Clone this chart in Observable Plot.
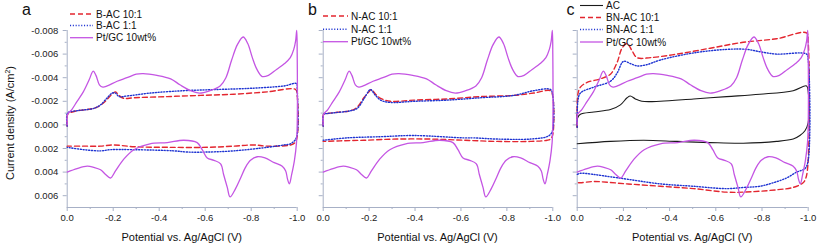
<!DOCTYPE html>
<html><head><meta charset="utf-8">
<script src="https://cdn.jsdelivr.net/npm/d3@7"></script>
<script src="https://cdn.jsdelivr.net/npm/@observablehq/plot@0.6"></script>
<style>
body{margin:0;background:#fff;}
#wrap{position:relative;width:817px;height:244px;overflow:hidden;font-family:"Liberation Sans",Arial,sans-serif;}
#wrap svg{position:absolute;top:0;}
</style></head><body><div id="wrap"></div>
<script>
// ---- tick values ----
const xTicks = [0, -0.2, -0.4, -0.6, -0.8, -1.0];
const xMinor = [-0.1, -0.3, -0.5, -0.7, -0.9];
const yTicks = [-0.008, -0.006, -0.004, -0.002, 0, 0.002, 0.004, 0.006];
const yMinor = [-0.007, -0.005, -0.003, -0.001, 0.001, 0.003, 0.005];

// ---- series: [potential (V), current density (A/cm2)] ----
const ptgc = [[0,0.0000],[-0.002,-0.0009],[-0.02,-0.0013],[-0.043,-0.0020],[-0.07,-0.0028],[-0.095,-0.0038],[-0.113,-0.00456],[-0.125,-0.0042],[-0.14,-0.0034],[-0.155,-0.0032],[-0.174,-0.0033],[-0.217,-0.0037],[-0.26,-0.0040],[-0.30,-0.0043],[-0.33,-0.00435],[-0.39,-0.0042],[-0.45,-0.0039],[-0.49,-0.0034],[-0.536,-0.0029],[-0.575,-0.0027],[-0.62,-0.0029],[-0.665,-0.0033],[-0.69,-0.0040],[-0.715,-0.0055],[-0.74,-0.0068],[-0.765,-0.00745],[-0.785,-0.0069],[-0.805,-0.0057],[-0.825,-0.0047],[-0.848,-0.0041],[-0.875,-0.0042],[-0.91,-0.0047],[-0.945,-0.0052],[-0.97,-0.0057],[-0.985,-0.0064],[-0.993,-0.0071],[-0.998,-0.0080],[-1.0,-0.0060],[-1.0,0.0000],[-0.997,0.0015],[-0.988,0.0030],[-0.976,0.0042],[-0.966,0.0050],[-0.958,0.0046],[-0.95,0.0039],[-0.935,0.0035],[-0.9,0.0032],[-0.86,0.0028],[-0.826,0.0027],[-0.797,0.0030],[-0.775,0.0036],[-0.754,0.0045],[-0.732,0.0054],[-0.708,0.0061],[-0.696,0.0053],[-0.68,0.0042],[-0.667,0.0033],[-0.638,0.0030],[-0.609,0.0028],[-0.587,0.0021],[-0.565,0.0015],[-0.507,0.0013],[-0.435,0.0015],[-0.36,0.0016],[-0.29,0.0021],[-0.246,0.0029],[-0.21,0.0039],[-0.188,0.0045],[-0.167,0.0042],[-0.145,0.0038],[-0.116,0.0036],[-0.087,0.0035],[-0.043,0.0037],[0,0.0040]];

const bac10 = [[0,0.0001],[-0.002,-0.0009],[-0.014,-0.00105],[-0.043,-0.0012],[-0.087,-0.0013],[-0.13,-0.0015],[-0.16,-0.0019],[-0.18,-0.0023],[-0.2,-0.0027],[-0.21,-0.0028],[-0.225,-0.0025],[-0.246,-0.00225],[-0.29,-0.0023],[-0.435,-0.0024],[-0.58,-0.0025],[-0.725,-0.0026],[-0.87,-0.0028],[-0.993,-0.0030],[-1.0,-0.0025],[-1.0,0.0010],[-0.99,0.0015],[-0.971,0.0017],[-0.87,0.0018],[-0.81,0.0017],[-0.725,0.0018],[-0.609,0.0019],[-0.435,0.0019],[-0.29,0.00185],[-0.203,0.0017],[-0.145,0.0018],[-0.07,0.0018],[0,0.0018]];

const bac11 = [[0,0.0001],[-0.002,-0.0010],[-0.043,-0.0012],[-0.116,-0.0014],[-0.145,-0.0017],[-0.174,-0.0023],[-0.196,-0.0027],[-0.21,-0.0027],[-0.225,-0.0024],[-0.26,-0.00245],[-0.362,-0.0027],[-0.507,-0.0029],[-0.652,-0.0030],[-0.797,-0.0031],[-0.942,-0.0033],[-0.997,-0.0035],[-1.0,-0.0030],[-1.0,0.0008],[-0.99,0.0013],[-0.97,0.0016],[-0.942,0.0017],[-0.87,0.0019],[-0.725,0.0022],[-0.609,0.0023],[-0.522,0.0023],[-0.464,0.0022],[-0.29,0.0021],[-0.188,0.0021],[-0.145,0.0022],[-0.072,0.0021],[0,0.0019]];

const nac10 = [[0,0.0001],[-0.002,-0.0009],[-0.017,-0.00096],[-0.075,-0.0011],[-0.119,-0.0012],[-0.148,-0.0015],[-0.177,-0.0023],[-0.199,-0.0028],[-0.209,-0.0030],[-0.228,-0.0026],[-0.25,-0.00225],[-0.293,-0.0020],[-0.395,-0.0021],[-0.54,-0.0022],[-0.685,-0.0024],[-0.83,-0.0025],[-0.917,-0.0027],[-0.99,-0.0029],[-1.0,-0.0024],[-1.0,0.0008],[-0.99,0.0012],[-0.975,0.0013],[-0.903,0.0014],[-0.758,0.0014],[-0.612,0.0013],[-0.467,0.0012],[-0.322,0.0012],[-0.177,0.0013],[-0.075,0.00135],[0,0.0014]];

const nac11 = [[0,0.0001],[-0.002,-0.0009],[-0.017,-0.00096],[-0.119,-0.0012],[-0.148,-0.0014],[-0.177,-0.0022],[-0.199,-0.0029],[-0.206,-0.0030],[-0.228,-0.0025],[-0.25,-0.0021],[-0.293,-0.0019],[-0.395,-0.0020],[-0.54,-0.0021],[-0.685,-0.0023],[-0.83,-0.0025],[-0.917,-0.0029],[-0.99,-0.0030],[-1.0,-0.0025],[-1.0,0.0004],[-0.99,0.0008],[-0.975,0.0010],[-0.903,0.0012],[-0.758,0.0012],[-0.656,0.0011],[-0.612,0.0011],[-0.395,0.0009],[-0.25,0.0010],[-0.104,0.0011],[0,0.0013]];

const ac = [[0,0.0002],[-0.002,-0.0006],[-0.014,-0.0009],[-0.072,-0.0011],[-0.144,-0.0013],[-0.187,-0.0017],[-0.216,-0.0023],[-0.23,-0.00245],[-0.252,-0.0022],[-0.28,-0.0020],[-0.36,-0.0020],[-0.504,-0.0022],[-0.647,-0.0024],[-0.791,-0.0026],[-0.935,-0.0029],[-0.993,-0.0033],[-1.0,-0.0028],[-1.0,-0.0002],[-0.986,0.0005],[-0.964,0.0009],[-0.935,0.0012],[-0.863,0.0014],[-0.719,0.00155],[-0.576,0.0015],[-0.432,0.0014],[-0.288,0.0013],[-0.144,0.0014],[0,0.0016]];

const bnac10 = [[0,0.0002],[-0.003,-0.0026],[-0.014,-0.0032],[-0.043,-0.0036],[-0.1,-0.0039],[-0.144,-0.0043],[-0.173,-0.0053],[-0.194,-0.0065],[-0.216,-0.0069],[-0.237,-0.0063],[-0.259,-0.0057],[-0.317,-0.0057],[-0.432,-0.0060],[-0.576,-0.0065],[-0.719,-0.0070],[-0.863,-0.0073],[-0.993,-0.0078],[-1.0,-0.0070],[-1.0,0.0030],[-0.99,0.0045],[-0.978,0.0049],[-0.935,0.0053],[-0.863,0.0055],[-0.719,0.0057],[-0.647,0.0057],[-0.504,0.0054],[-0.36,0.0052],[-0.216,0.0050],[-0.072,0.0048],[-0.014,0.0049],[0,0.0049]];

const bnac11 = [[0,0.0002],[-0.003,-0.0020],[-0.014,-0.0027],[-0.072,-0.0032],[-0.144,-0.0037],[-0.173,-0.0044],[-0.195,-0.0053],[-0.205,-0.0054],[-0.23,-0.0052],[-0.26,-0.0050],[-0.30,-0.0051],[-0.36,-0.0055],[-0.504,-0.0061],[-0.647,-0.0064],[-0.734,-0.0064],[-0.791,-0.0062],[-0.863,-0.0060],[-0.993,-0.0060],[-1.0,-0.0055],[-1.0,0.0030],[-0.986,0.0037],[-0.95,0.0040],[-0.906,0.0045],[-0.849,0.0049],[-0.791,0.0052],[-0.719,0.0053],[-0.647,0.0054],[-0.504,0.0052],[-0.36,0.0050],[-0.216,0.0046],[-0.144,0.0044],[-0.072,0.0042],[-0.014,0.0041],[0,0.0042]];

const panelLetters = ["a", "b", "c"];
const namesA = ["B-AC 10:1", "B-AC 1:1", "Pt/GC 10wt%"];
const namesB = ["N-AC 10:1", "N-AC 1:1", "Pt/GC 10wt%"];
const namesC = ["AC", "BN-AC 10:1", "BN-AC 1:1", "Pt/GC 10wt%"];
const xTitle = "Potential vs. Ag/AgCl (V)";

// ---- styles ----
const AX = "#a7b0c6";
const ST = {
  red:     {stroke:"#e3262f", strokeWidth:1.4, strokeDasharray:"5,3"},
  blue:    {stroke:"#1f34d2", strokeWidth:1.4, strokeDasharray:"1.1,1.7"},
  magenta: {stroke:"#c455e3", strokeWidth:1.3},
  black:   {stroke:"#1a1a1a", strokeWidth:1.1}
};
const FONT = "'Liberation Sans', Arial, sans-serif";

const panels = [
  {svgLeft:0,   width:300, ml:66.7, mr:3.3, labels:true,
   series:[[bac10,"red"],[bac11,"blue"],[ptgc,"magenta"]], names:namesA, styles:["red","blue","magenta"],
   leg:{x1:70, x2:93, tx:96, ys:[14,25.5,37.7]}, letter:{x:22,y:15}},
  {svgLeft:300, width:260, ml:22.7, mr:7.7, labels:false,
   series:[[nac10,"red"],[nac11,"blue"],[ptgc,"magenta"]], names:namesB, styles:["red","blue","magenta"],
   leg:{x1:323, x2:348, tx:351, ys:[16,29.3,41.7]}, letter:{x:308,y:15}},
  {svgLeft:560, width:257, ml:16.7, mr:9.3, labels:false,
   series:[[ac,"black"],[bnac10,"red"],[bnac11,"blue"],[ptgc,"magenta"]], names:namesC, styles:["black","red","blue","magenta"],
   leg:{x1:580, x2:603, tx:606, ys:[5.5,17.5,29.5,42]}, letter:{x:566.5,y:15}}
];

const wrap = document.getElementById("wrap");

panels.forEach(p => {
  const marks = [
    Plot.ruleX([0], {stroke: AX}),
    Plot.ruleY([0.007], {stroke: AX}),
    Plot.axisY({ticks: yTicks, tickSize: 4, stroke: AX, fill: "#222", label: null,
      tickFormat: p.labels ? (d => d.toFixed(3)) : (() => "")}),
    Plot.axisY({ticks: yMinor, tickSize: 2, stroke: AX, label: null, tickFormat: () => ""}),
    Plot.axisX({ticks: xTicks, tickSize: 4, stroke: AX, fill: "#222", label: null, tickPadding: 3,
      tickFormat: d => d.toFixed(1)}),
    Plot.axisX({ticks: xMinor, tickSize: 2, stroke: AX, label: null, tickFormat: () => ""})
  ];
  p.series.forEach(([data, st]) => {
    marks.push(Plot.line(data, {x: d => d[0], y: d => d[1], curve: "catmull-rom", ...ST[st]}));
  });
  const chart = Plot.plot({
    width: p.width, height: 244,
    marginLeft: p.ml, marginRight: p.mr, marginTop: 30, marginBottom: 37,
    x: {domain: [0, -1]},
    y: {domain: [0.007, -0.008]},
    style: {fontFamily: FONT, fontSize: "9.5px", background: "transparent", overflow: "visible"},
    marks
  });
  chart.style.left = p.svgLeft + "px";
  chart.style.maxWidth = "none";
  wrap.appendChild(chart);
});

// ---- overlay: panel letters, legends, axis titles ----
const ov = d3.create("svg").attr("width", 817).attr("height", 244)
  .style("left", "0px").style("font-family", FONT).style("overflow", "visible");

panels.forEach((p, i) => {
  ov.append("text").attr("x", p.letter.x).attr("y", p.letter.y)
    .attr("font-size", 16).attr("fill", "#111").text(panelLetters[i]);
  p.names.forEach((n, j) => {
    const s = ST[p.styles[j]];
    const y = p.leg.ys[j];
    ov.append("line").attr("x1", p.leg.x1).attr("x2", p.leg.x2).attr("y1", y).attr("y2", y)
      .attr("stroke", s.stroke).attr("stroke-width", s.strokeWidth)
      .attr("stroke-dasharray", s.strokeDasharray || null);
    ov.append("text").attr("x", p.leg.tx).attr("y", y).attr("dy", "0.35em")
      .attr("font-size", 10).attr("fill", "#111").text(n);
  });
  const cx = p.svgLeft + p.ml + (p.width - p.ml - p.mr) / 2;
  ov.append("text").attr("x", cx).attr("y", 237).attr("dy", "0.35em")
    .attr("text-anchor", "middle").attr("font-size", 11).attr("fill", "#111").text(xTitle);
});

const yt = ov.append("text").attr("transform", "translate(10,123) rotate(-90)")
  .attr("text-anchor", "middle").attr("dy", "0.35em").attr("font-size", 11).attr("fill", "#111");
yt.append("tspan").text("Current density (A/cm");
yt.append("tspan").attr("font-size", 7).attr("dy", "-0.6em").text("2");
yt.append("tspan").attr("dy", "0.35em").text(")");

wrap.appendChild(ov.node());
</script>
</body></html>
